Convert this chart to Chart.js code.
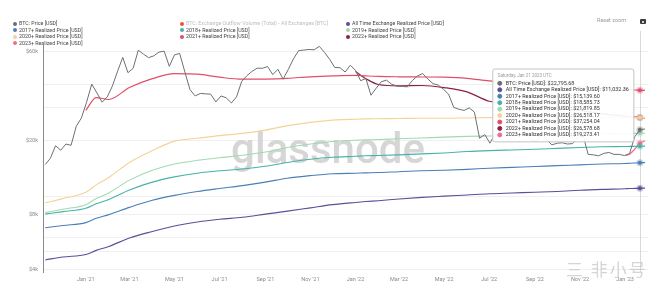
<!DOCTYPE html>
<html>
<head>
<meta charset="utf-8">
<title>BTC Realized Price by Cohort</title>
<script src="https://cdn.jsdelivr.net/npm/chart.js@4.4.1/dist/chart.umd.min.js"></script>
<style>
  html, body { margin: 0; padding: 0; background: #fff; }
  #wrap { position: relative; width: 662px; height: 288px; font-family: Roboto, "Noto Sans", sans-serif; }
  #chart { position: absolute; left: 0; top: 0; }
  .leg { position: absolute; font-size: 5.3px; line-height: 6px; color: #444; white-space: nowrap; }
  .leg i { display: inline-block; width: 4px; height: 4px; border-radius: 50%; margin-right: 2px; vertical-align: -0.5px; }
  .leg.off { color: #bdbdbd; }
  #reset { position: absolute; left: 597px; top: 17px; font-size: 5.5px; color: #999; }
  #cam { position: absolute; left: 640px; top: 19px; width: 6px; height: 5px; background: #3d3d3d; border-radius: 1px; }
  #cam::after { content: ""; position: absolute; left: 2px; top: 1.5px; width: 2px; height: 2px; border-radius: 50%; background: #fff; }
  #mark { position: absolute; left: 566px; top: 256px; font-size: 17px; color: rgba(195,195,195,0.7); font-family: "Noto Sans CJK SC", sans-serif; letter-spacing: 2px; }
</style>
</head>
<body>
<div id="wrap">
  <canvas id="chart" width="662" height="288"></canvas>
  <div id="reset">Reset zoom</div>
  <div id="cam"></div>
  <div id="mark">三 非小号</div>
</div>
<script>
// weekly BTC closes (Saturdays), starting 2020-11-07
const btcFirstDay = "2020-11-07";
const btcPrice = [
  14800, 16000, 18700, 17700, 19100, 18800, 23800, 26400,
  32100, 40200, 36000, 32100, 34300, 39300, 47200, 56000, 46300,
  48900, 61200, 58300, 55800, 57100, 59800, 60500, 50100,
  57800, 58800, 46800, 37500, 34700, 35800, 35600, 35500, 32200,
  34700, 33900, 31800, 34300, 41600, 44600, 47100, 49000, 48900,
  50000, 45200, 48300, 42700, 48200, 54900, 60900, 61300, 61800,
  61500, 64200, 59700, 54700, 49400, 49300, 46700, 50800,
  47700, 41900, 43100, 35000, 38200, 41400, 42200, 40100, 39200,
  39100, 38800, 42000, 44500, 45800, 42800, 40400, 39700, 37700,
  35500, 30100, 29400, 29000, 29900, 28400, 20500, 21500,
  19300, 21600, 21200, 22600, 23800, 23200, 24400, 21500, 20000,
  19800, 21800, 20100, 18900, 19300, 19400, 19100, 19200, 20600,
  21300, 16800, 16700, 16500, 17000, 17200, 16800, 16800, 16550,
  16950, 20900, 22795.68, 23030
];

// realized price lines, sampled dates
const realizedDates = [
  "2020-11-07", "2020-12-01", "2021-01-01", "2021-01-15", "2021-02-01", "2021-03-01",
  "2021-04-01", "2021-05-01", "2021-06-01", "2021-07-01", "2021-08-01", "2021-09-01",
  "2021-10-01", "2021-11-01", "2021-12-01", "2022-01-01", "2022-01-15", "2022-02-01",
  "2022-03-01", "2022-04-01", "2022-05-01", "2022-06-01", "2022-07-01", "2022-08-01",
  "2022-09-01", "2022-10-01", "2022-11-01", "2022-12-01", "2023-01-01", "2023-01-07",
  "2023-01-14", "2023-01-21", "2023-01-28"
];
const allTimeExchange = [4530, 4700, 4850, 5100, 5350, 5950, 6450, 6900, 7250, 7500, 7700, 8000, 8300, 8650, 9000, 9250, 9350, 9450, 9650, 9850, 10000, 10150, 10300, 10400, 10500, 10600, 10750, 10880, 10960, 10990, 11010, 11032.36, 11050];
const realized2017 = [6750, 6950, 7200, 7600, 7950, 8700, 9500, 10100, 10600, 11000, 11400, 11900, 12500, 12900, 13200, 13300, 13350, 13400, 13550, 13700, 13800, 13950, 14150, 14300, 14450, 14600, 14750, 14900, 15000, 15050, 15100, 15139.60, 15170];
const realized2018 = [8000, 8250, 8600, 9100, 9600, 10800, 11900, 12700, 13300, 13700, 14000, 14500, 15200, 15800, 16200, 16400, 16500, 16550, 16700, 16900, 17100, 17400, 17600, 17750, 17900, 18100, 18300, 18450, 18520, 18540, 18560, 18585.73, 18610];
const realized2019 = [8150, 8500, 9000, 9700, 10400, 12200, 13800, 14900, 15600, 16100, 16600, 17300, 18300, 19100, 19700, 20000, 20100, 20200, 20400, 20600, 20800, 21000, 21100, 21200, 21300, 21450, 21600, 21700, 21760, 21780, 21800, 21819.85, 21840];
const realized2020 = [9200, 9700, 10500, 11500, 12600, 15200, 17600, 19800, 20500, 21200, 21800, 22700, 24000, 25000, 25700, 26000, 26100, 26150, 26200, 26300, 26300, 26400, 26500, 26600, 26700, 26650, 26600, 26550, 26530, 26525, 26520, 26518.17, 26510];
const realized2021 = [null, null, 29000, 34000, 33200, 38500, 43000, 45800, 45500, 43800, 42700, 42800, 43200, 44000, 44500, 44800, 44500, 44200, 44000, 43900, 43800, 43200, 41800, 41000, 40300, 39600, 38900, 38200, 37600, 37450, 37350, 37254.04, 37150];
const realized2022 = [null, null, null, null, null, null, null, null, null, null, null, null, null, null, null, 47000, 43000, 40000, 39300, 39500, 38500, 36500, 32500, 31600, 30700, 29800, 29000, 27800, 27000, 26850, 26700, 26578.68, 26450];
const realized2023 = [null, null, null, null, null, null, null, null, null, null, null, null, null, null, null, null, null, null, null, null, null, null, null, null, null, null, null, null, 16600, 16850, 17900, 19273.41, 19900];

const xTickDates = ["2021-01-01", "2021-03-01", "2021-05-01", "2021-07-01", "2021-09-01", "2021-11-01", "2022-01-01", "2022-03-01", "2022-05-01", "2022-07-01", "2022-09-01", "2022-11-01", "2023-01-01"];
const yGridTicks = [4000, 5000, 6000, 8000, 10000, 20000, 30000, 40000, 60000];
const yLabelTicks = [4000, 8000, 20000, 60000];
const hoverDate = "2023-01-21";

const legendLabels = [
  "BTC: Price [USD]",
  "BTC: Exchange Outflow Volume (Total) - All Exchanges [BTC]",
  "All Time Exchange Realized Price [USD]",
  "2017+ Realized Price [USD]",
  "2018+ Realized Price [USD]",
  "2019+ Realized Price [USD]",
  "2020+ Realized Price [USD]",
  "2021+ Realized Price [USD]",
  "2022+ Realized Price [USD]",
  "2023+ Realized Price [USD]"
];
const legendColors = ["#6b7075", "#e8553a", "#5b4e9a", "#4a7fb8", "#48b3a8", "#a3d9b1", "#f3d398", "#e04e6a", "#8e2148", "#ec6f8f"];

const DAY = 86400000;
const MONTHS = ["Jan", "Feb", "Mar", "Apr", "May", "Jun", "Jul", "Aug", "Sep", "Oct", "Nov", "Dec"];
const WEEKDAYS = ["Sunday", "Monday", "Tuesday", "Wednesday", "Thursday", "Friday", "Saturday"];
const toMs = (s) => Date.parse(s + "T00:00:00Z");

// legend, 3 columns like the glassnode header
const colX = [13, 180, 346];
const rowY = [20, 26.5, 33, 39.5];
const wrap = document.getElementById("wrap");
legendLabels.forEach((label, i) => {
  const el = document.createElement("div");
  el.className = "leg" + (i === 1 ? " off" : "");
  el.style.left = colX[i % 3] + "px";
  el.style.top = rowY[Math.floor(i / 3)] + "px";
  el.innerHTML = '<i style="background:' + legendColors[i] + '"></i>' + label;
  wrap.appendChild(el);
});

function series(dates, values) {
  return dates
    .map((d, i) => ({ x: typeof d === "number" ? d : toMs(d), y: values[i] }))
    .filter((p) => p.y !== null);
}

const btcDates = btcPrice.map((_, i) => toMs(btcFirstDay) + i * 7 * DAY);

function lineSet(label, color, data, width, smooth) {
  return {
    label: label,
    data: data,
    borderColor: color,
    backgroundColor: color,
    borderWidth: width,
    pointRadius: 0,
    pointHoverRadius: 2,
    pointHoverBorderWidth: 3,
    pointHoverBackgroundColor: color,
    pointHoverBorderColor: color + "55",
    cubicInterpolationMode: smooth ? "monotone" : "default",
    tension: 0,
    fill: false
  };
}

const datasets = [
  lineSet(legendLabels[0], legendColors[0], series(btcDates, btcPrice), 1, false),
  lineSet(legendLabels[2], legendColors[2], series(realizedDates, allTimeExchange), 1.1, true),
  lineSet(legendLabels[3], legendColors[3], series(realizedDates, realized2017), 1.1, true),
  lineSet(legendLabels[4], legendColors[4], series(realizedDates, realized2018), 1.1, true),
  lineSet(legendLabels[5], legendColors[5], series(realizedDates, realized2019), 1.1, true),
  lineSet(legendLabels[6], legendColors[6], series(realizedDates, realized2020), 1.1, true),
  lineSet(legendLabels[7], legendColors[7], series(realizedDates, realized2021), 1.2, true),
  lineSet(legendLabels[8], legendColors[8], series(realizedDates, realized2022), 1.2, true),
  lineSet(legendLabels[9], legendColors[9], series(realizedDates, realized2023), 1.2, true)
];

Chart.defaults.font.family = "Roboto, 'Noto Sans', sans-serif";

Chart.Tooltip.positioners.leftOfLine = function (items) {
  if (!items.length) return false;
  return { x: items[0].element.x - 8, y: this.chart.chartArea.top + 24 };
};

// glassnode watermark + hover crosshair
const decor = {
  id: "decor",
  beforeDatasetsDraw(chart) {
    const { ctx, chartArea } = chart;
    ctx.save();
    ctx.font = "500 42px Roboto";
    ctx.fillStyle = "#d6d6d6";
    ctx.textAlign = "center";
    ctx.textBaseline = "alphabetic";
    ctx.fillText("glassnode", 328, 163);
    const act = chart.tooltip ? chart.tooltip.getActiveElements() : [];
    if (act.length) {
      const x = act[0].element.x;
      ctx.strokeStyle = "#d9d9d9";
      ctx.lineWidth = 1;
      ctx.beginPath();
      ctx.moveTo(Math.round(x) + 0.5, chartArea.top - 14);
      ctx.lineTo(Math.round(x) + 0.5, chartArea.bottom);
      ctx.stroke();
    }
    ctx.restore();
  }
};

const money = (v) => "$" + v.toLocaleString("en-US", { minimumFractionDigits: 2, maximumFractionDigits: 2 });

const ctx = document.getElementById("chart").getContext("2d");
const chart = new Chart(ctx, {
  type: "line",
  data: { datasets: datasets },
  plugins: [decor],
  options: {
    responsive: false,
    animation: false,
    events: [],
    layout: { padding: { top: 45, right: 14, left: 0, bottom: 0 } },
    plugins: {
      legend: { display: false },
      tooltip: {
        position: "leftOfLine",
        xAlign: "right",
        yAlign: "top",
        caretSize: 0,
        caretPadding: 0,
        cornerRadius: 2,
        backgroundColor: "rgba(255,255,255,0.93)",
        borderColor: "#c4c4c4",
        borderWidth: 1,
        titleColor: "#9a9a9a",
        titleFont: { size: 4.5, weight: "normal" },
        titleMarginBottom: 2,
        bodyColor: "#333",
        bodyFont: { size: 5.4, lineHeight: 1.1 },
        bodySpacing: 0.5,
        padding: { top: 4, bottom: 4, left: 5, right: 5 },
        usePointStyle: true,
        boxWidth: 4,
        boxHeight: 4,
        boxPadding: 2,
        callbacks: {
          title: (items) => {
            const d = new Date(items[0].parsed.x);
            return WEEKDAYS[d.getUTCDay()] + ", " + MONTHS[d.getUTCMonth()] + " " + d.getUTCDate() + " " + d.getUTCFullYear() + " UTC";
          },
          label: (item) => item.dataset.label + ": " + money(item.parsed.y),
          labelColor: (item) => ({ borderColor: item.dataset.borderColor, backgroundColor: item.dataset.borderColor }),
          labelPointStyle: () => ({ pointStyle: "circle", rotation: 0 })
        }
      }
    },
    scales: {
      x: {
        type: "linear",
        min: Date.UTC(2020, 10, 4),
        max: Date.UTC(2023, 1, 1),
        afterBuildTicks: (axis) => { axis.ticks = xTickDates.map((d) => ({ value: toMs(d) })); },
        afterFit: (axis) => { axis.height = 16; },
        grid: { display: false, drawTicks: false },
        border: { display: false },
        ticks: {
          autoSkip: false,
          maxRotation: 0,
          padding: 4,
          color: "#8a8a8a",
          font: { size: 5.5 },
          callback: (v) => {
            const d = new Date(v);
            return MONTHS[d.getUTCMonth()] + " '" + String(d.getUTCFullYear()).slice(2);
          }
        }
      },
      y: {
        type: "logarithmic",
        min: 3900,
        max: 65300,
        afterBuildTicks: (axis) => { axis.ticks = yGridTicks.map((v) => ({ value: v })); },
        afterFit: (axis) => { axis.width = 43; },
        grid: { color: "#f0f0f0", drawTicks: false },
        border: { display: true, color: "#8a8a8a", width: 1 },
        ticks: {
          padding: 5,
          color: "#8a8a8a",
          font: { size: 5.5 },
          callback: (v) => (yLabelTicks.includes(v) ? "$" + v / 1000 + "k" : "")
        }
      }
    }
  }
});

// show the hovered state at the reference date
const target = toMs(hoverDate);
const active = chart.data.datasets
  .map((ds, i) => ({ datasetIndex: i, index: ds.data.findIndex((p) => p.x === target) }))
  .filter((a) => a.index >= 0);
chart.setActiveElements(active);
chart.tooltip.setActiveElements(active, { x: 0, y: 0 });
chart.update();
</script>
</body>
</html>
